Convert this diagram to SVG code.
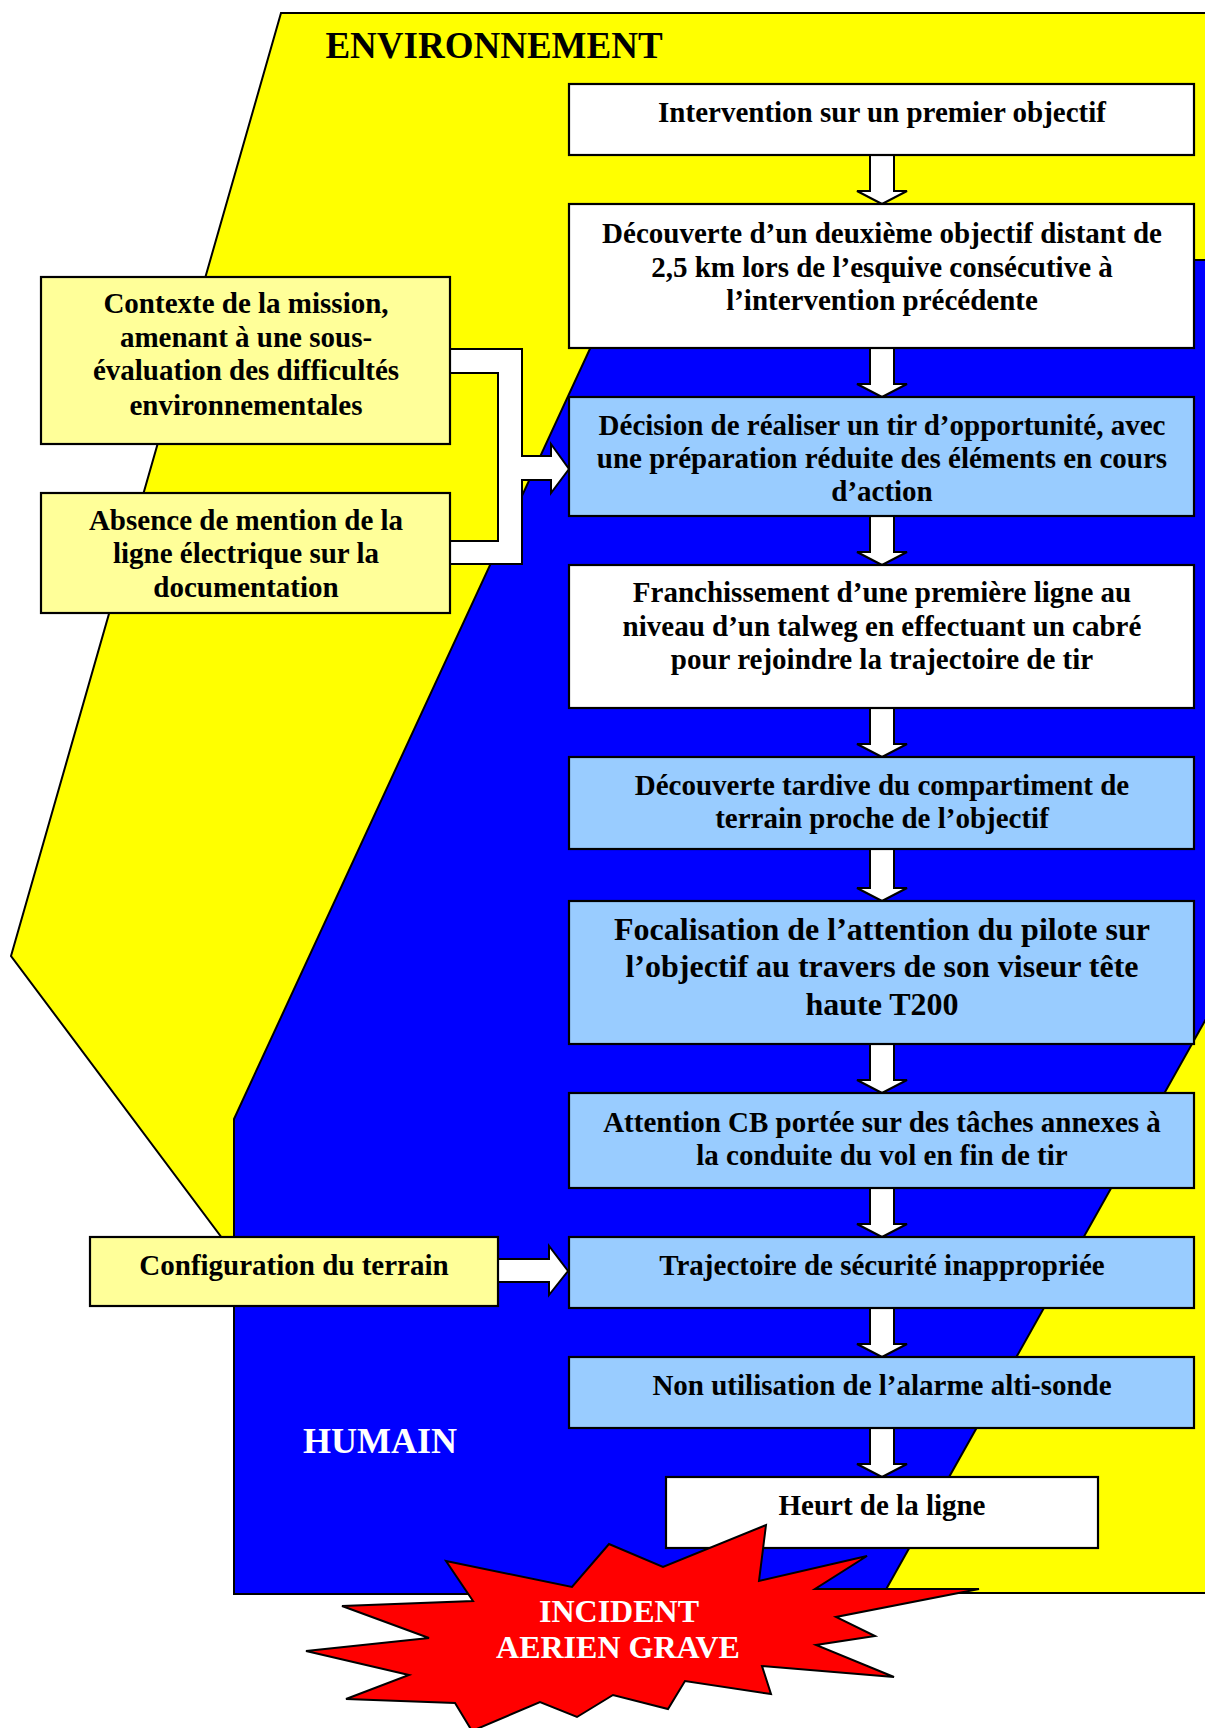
<svg xmlns="http://www.w3.org/2000/svg" width="1205" height="1728" viewBox="0 0 1205 1728">
<style>
.bg{stroke:#000;stroke-width:2;stroke-linejoin:miter}
.box{stroke:#000;stroke-width:2.2}
.w{fill:#FFFFFF}
.lb{fill:#99CCFF}
.ly{fill:#FFFF99}
.arr{fill:#FFFFFF;stroke:#000;stroke-width:2;stroke-linejoin:miter}
text{font-family:"Liberation Serif","Times New Roman",serif;font-weight:bold;fill:#000;text-anchor:middle}
.t29{font-size:29px}
.t32{font-size:32px}
.wt{fill:#FFFFFF}
</style>
<rect x="0" y="0" width="1205" height="1728" fill="#FFFFFF"/>
<g id="background">
<polygon class="bg" fill="#FFFF00" points="281,13 1215,13 1215,1262 240,1262 11,956"/>
<polygon class="bg" fill="#0000FF" points="631,260 1215,260 1215,1100 950,1594 234,1594 234,1119"/>
<polygon class="bg" fill="#FFFF00" points="1215,1003 884,1593 1215,1593"/>
<text x="494" y="58" style="font-size:37px">ENVIRONNEMENT</text>
<text x="380" y="1453" class="wt" style="font-size:36px">HUMAIN</text>
</g>
<g id="connectors">
<path class="arr" d="M870,155 L894,155 L894,191 L907,191 L882,204 L857,191 L870,191 Z"/>
<path class="arr" d="M870,348 L894,348 L894,384 L907,384 L882,397 L857,384 L870,384 Z"/>
<path class="arr" d="M870,516 L894,516 L894,552 L907,552 L882,565 L857,552 L870,552 Z"/>
<path class="arr" d="M870,708 L894,708 L894,744 L907,744 L882,757 L857,744 L870,744 Z"/>
<path class="arr" d="M870,849 L894,849 L894,888 L907,888 L882,901 L857,888 L870,888 Z"/>
<path class="arr" d="M870,1044 L894,1044 L894,1080 L907,1080 L882,1093 L857,1080 L870,1080 Z"/>
<path class="arr" d="M870,1188 L894,1188 L894,1224 L907,1224 L882,1237 L857,1224 L870,1224 Z"/>
<path class="arr" d="M870,1308 L894,1308 L894,1344 L907,1344 L882,1357 L857,1344 L870,1344 Z"/>
<path class="arr" d="M870,1428 L894,1428 L894,1464 L907,1464 L882,1477 L857,1464 L870,1464 Z"/>
<path class="arr" d="M450,349 L522,349 L522,456 L551,456 L551,444 L569,469 L551,493 L551,480 L522,480 L522,564 L450,564 L450,541 L498,541 L498,373 L450,373 Z"/>
<path class="arr" d="M498,1259 L549,1259 L549,1246 L568,1271 L549,1295 L549,1282 L498,1282 Z"/>
</g>
<g id="n1">
<rect class="box w" x="569" y="84" width="625" height="71"/>
<text class="t29" x="882" y="122">Intervention sur un premier objectif</text>
</g>
<g id="n2">
<rect class="box w" x="569" y="204" width="625" height="144"/>
<text class="t29" x="882" y="243">Découverte d’un deuxième objectif distant de</text>
<text class="t29" x="882" y="276.5">2,5 km lors de l’esquive consécutive à</text>
<text class="t29" x="882" y="310">l’intervention précédente</text>
</g>
<g id="n3">
<rect class="box lb" x="569" y="397" width="625" height="119"/>
<text class="t29" x="882" y="435">Décision de réaliser un tir d’opportunité, avec</text>
<text class="t29" x="882" y="467.5">une préparation réduite des éléments en cours</text>
<text class="t29" x="882" y="501">d’action</text>
</g>
<g id="n4">
<rect class="box w" x="569" y="565" width="625" height="143"/>
<text class="t29" x="882" y="602">Franchissement d’une première ligne au</text>
<text class="t29" x="882" y="635.5">niveau d’un talweg en effectuant un cabré</text>
<text class="t29" x="882" y="669">pour rejoindre la trajectoire de tir</text>
</g>
<g id="n5">
<rect class="box lb" x="569" y="757" width="625" height="92"/>
<text class="t29" x="882" y="795">Découverte tardive du compartiment de</text>
<text class="t29" x="882" y="828">terrain proche de l’objectif</text>
</g>
<g id="n6">
<rect class="box lb" x="569" y="901" width="625" height="143"/>
<text class="t32" x="882" y="940">Focalisation de l’attention du pilote sur</text>
<text class="t32" x="882" y="977">l’objectif au travers de son viseur tête</text>
<text class="t32" x="882" y="1015">haute T200</text>
</g>
<g id="n7">
<rect class="box lb" x="569" y="1093" width="625" height="95"/>
<text class="t29" x="882" y="1132">Attention CB portée sur des tâches annexes à</text>
<text class="t29" x="882" y="1165">la conduite du vol en fin de tir</text>
</g>
<g id="n8">
<rect class="box lb" x="569" y="1237" width="625" height="71"/>
<text class="t29" x="882" y="1275">Trajectoire de sécurité inappropriée</text>
</g>
<g id="n9">
<rect class="box lb" x="569" y="1357" width="625" height="71"/>
<text class="t29" x="882" y="1395">Non utilisation de l’alarme alti-sonde</text>
</g>
<g id="n10">
<rect class="box w" x="666" y="1477" width="432" height="71"/>
<text class="t29" x="882" y="1515">Heurt de la ligne</text>
</g>
<g id="f1">
<rect class="box ly" x="41" y="277" width="409" height="167"/>
<text class="t29" x="246" y="313">Contexte de la mission,</text>
<text class="t29" x="246" y="347">amenant à une sous-</text>
<text class="t29" x="246" y="380">évaluation des difficultés</text>
<text class="t29" x="246" y="415">environnementales</text>
</g>
<g id="f2">
<rect class="box ly" x="41" y="493" width="409" height="120"/>
<text class="t29" x="246" y="530">Absence de mention de la</text>
<text class="t29" x="246" y="563">ligne électrique sur la</text>
<text class="t29" x="246" y="597">documentation</text>
</g>
<g id="f3">
<rect class="box ly" x="90" y="1237" width="408" height="69"/>
<text class="t29" x="294" y="1275">Configuration du terrain</text>
</g>
<g id="incident">
<polygon class="bg" fill="#FF0000" points="766,1525 759,1581 867,1556 815,1589 979,1589 836,1617 875,1636 816,1645 894,1677 762,1666 771,1694 685,1681 668,1709 613,1695 577,1717 540,1702 472,1731 455,1703 346,1699 409,1675 306,1651 429,1638 342,1606 473,1601 446,1561 572,1587 609,1544 663,1567"/>
<text class="wt t32" x="619" y="1622">INCIDENT</text>
<text class="wt t32" x="618" y="1658">AERIEN GRAVE</text>
</g>
</svg>
